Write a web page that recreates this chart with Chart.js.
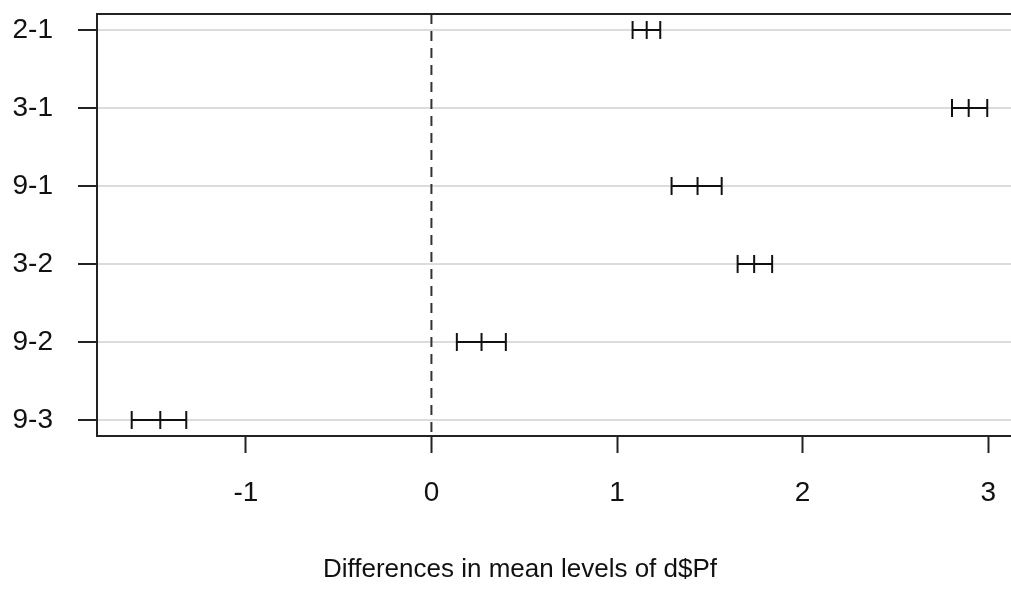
<!DOCTYPE html>
<html>
<head>
<meta charset="utf-8">
<script src="https://cdn.jsdelivr.net/npm/chart.js@4.4.1/dist/chart.umd.min.js"></script>
<style>
  html, body { margin: 0; padding: 0; background: #fff; overflow: hidden; }
  #wrap { width: 1011px; height: 589px; }
</style>
</head>
<body>
<div id="wrap"><canvas id="myChart" width="1011" height="589"></canvas></div>
<script>
// Tukey HSD intervals
const comparisons = ['2-1', '3-1', '9-1', '3-2', '9-2', '9-3'];
const diffs = [1.160, 2.895, 1.434, 1.739, 0.270, -1.461];
const lowers = [1.084, 2.805, 1.294, 1.650, 0.137, -1.615];
const uppers = [1.233, 2.995, 1.564, 1.836, 0.401, -1.321];
const xTicks = [-1, 0, 1, 2, 3];
const xTitle = 'Differences in mean levels of d$Pf';

const xMin = -1.802, xMax = 3.123;
const yMin = 0.795, yMax = 6.205;
const ink = '#111';
const fontFamily = '"Liberation Sans", Arial, sans-serif';

const datasets = comparisons.map((c, i) => ({
    label: c,
    data: [
        { x: lowers[i], y: i + 1 },
        { x: diffs[i], y: i + 1 },
        { x: uppers[i], y: i + 1 }
    ],
    showLine: true,
    borderColor: ink,
    borderWidth: 2,
    pointStyle: 'line',
    rotation: 90,
    pointRadius: 9,
    pointBorderWidth: 2,
    pointBorderColor: ink
}));

datasets.push({
    label: 'zero',
    data: [{ x: 0, y: yMin }, { x: 0, y: yMax }],
    showLine: true,
    borderColor: '#333',
    borderWidth: 2,
    borderDash: [10, 7],
    pointRadius: 0
});

// top edge of the box (no right edge in the picture) + axis title
const frame = {
    id: 'frame',
    afterDraw(chart) {
        const { ctx, chartArea } = chart;
        ctx.save();
        ctx.strokeStyle = '#222';
        ctx.lineWidth = 2;
        ctx.beginPath();
        ctx.moveTo(chartArea.left - 1, chartArea.top);
        ctx.lineTo(chart.width, chartArea.top);
        ctx.stroke();
        ctx.fillStyle = ink;
        ctx.font = '26px ' + fontFamily;
        ctx.textAlign = 'center';
        ctx.textBaseline = 'alphabetic';
        ctx.fillText(xTitle, 520, 577);
        ctx.restore();
    }
};

const ctx = document.getElementById('myChart').getContext('2d');
new Chart(ctx, {
    type: 'scatter',
    data: { datasets: datasets },
    plugins: [frame],
    options: {
        responsive: false,
        animation: false,
        layout: { autoPadding: false, padding: { top: 14, right: 0, left: 0, bottom: 0 } },
        plugins: { legend: { display: false }, tooltip: { enabled: false } },
        scales: {
            x: {
                type: 'linear',
                min: xMin,
                max: xMax,
                afterBuildTicks: s => { s.ticks = xTicks.map(v => ({ value: v })); },
                afterFit: s => { s.height = 153; s.paddingLeft = 0; s.paddingRight = 0; },
                grid: { drawOnChartArea: false, drawTicks: true, tickLength: 17, tickColor: '#222', tickWidth: 2 },
                border: { display: true, color: '#222', width: 2 },
                ticks: { color: ink, font: { family: fontFamily, size: 28 }, padding: 23, maxRotation: 0 }
            },
            y: {
                type: 'linear',
                reverse: true,
                min: yMin,
                max: yMax,
                afterBuildTicks: s => { s.ticks = comparisons.map((c, i) => ({ value: i + 1 })); },
                afterFit: s => { s.width = 97; s.paddingTop = 0; s.paddingBottom = 0; },
                grid: { color: '#dcdcdc', lineWidth: 2, drawTicks: true, tickLength: 19, tickColor: '#222', tickWidth: 2 },
                border: { display: true, color: '#222', width: 2 },
                ticks: {
                    color: ink,
                    font: { family: fontFamily, size: 28 },
                    padding: 25,
                    callback: v => comparisons[Math.round(v) - 1]
                }
            }
        }
    }
});
</script>
</body>
</html>
